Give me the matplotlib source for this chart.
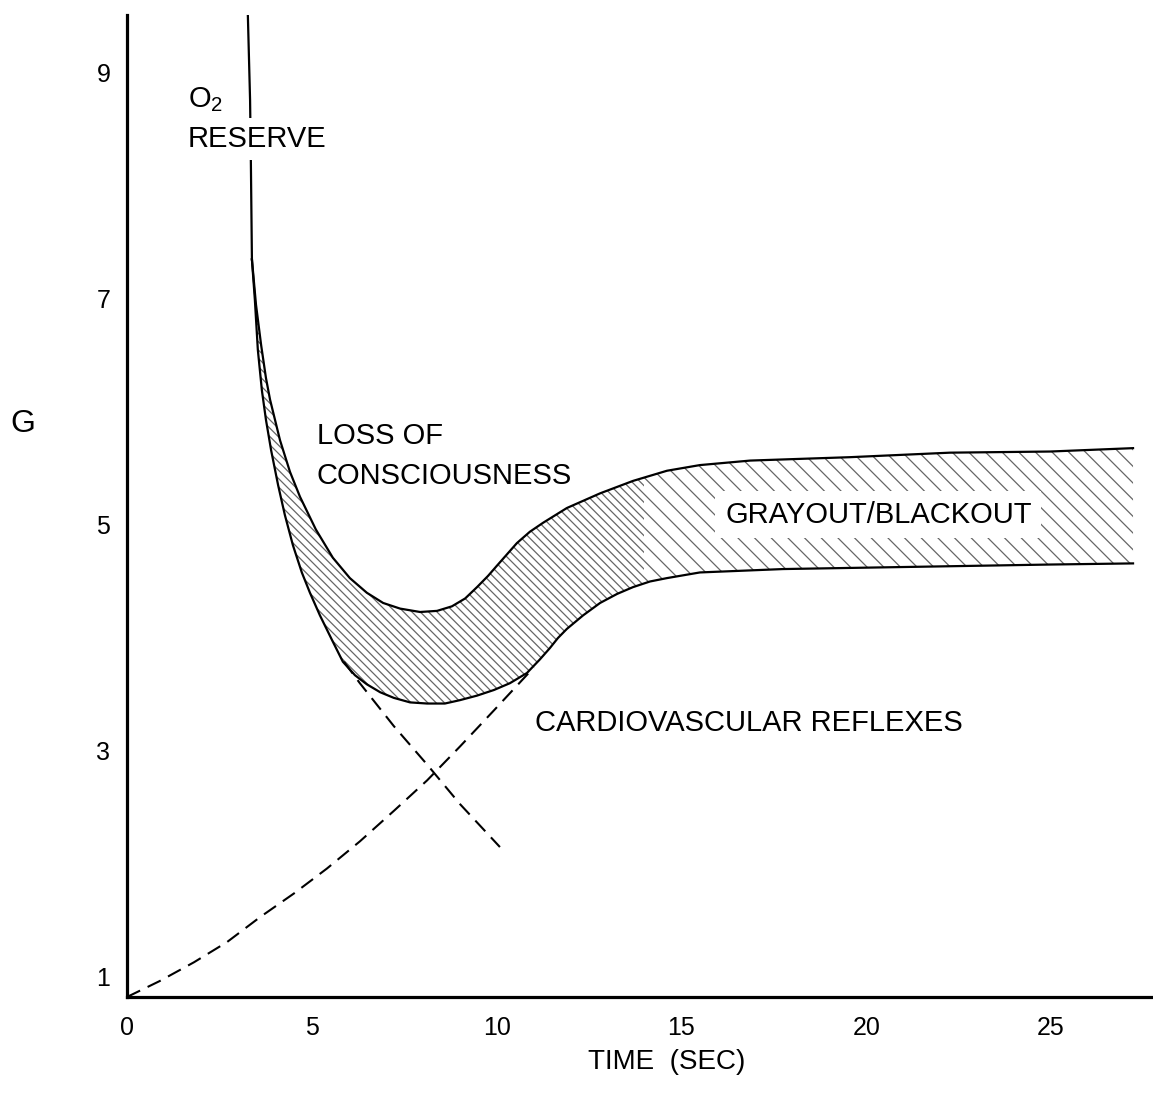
import matplotlib
matplotlib.use("Agg")
import matplotlib.pyplot as plt
from matplotlib.patches import Rectangle

plt.rcParams['font.family'] = ['Liberation Sans', 'DejaVu Sans']
plt.rcParams['mathtext.fontset'] = 'custom'
plt.rcParams['mathtext.rm'] = 'Liberation Sans'
plt.rcParams['mathtext.it'] = 'Liberation Sans'
plt.rcParams['hatch.linewidth'] = 0.9

# ---- data (time in s, G) ----
o2_t = [3.27, 3.33, 3.35, 3.38]
o2_g = [9.51, 8.76, 8.26, 7.35]

upper_t = [3.38, 3.49, 3.63, 3.76, 3.87, 4.14, 4.41, 4.68, 5.11, 5.57, 6.03, 6.49,
           6.93, 7.39, 7.93, 8.39, 8.79, 9.15, 9.47, 9.77, 10.01, 10.28, 10.55,
           10.90, 11.26, 11.90, 12.80, 13.69, 14.61, 15.50, 16.86, 19.56, 22.27,
           24.97, 27.22]
upper_g = [7.35, 6.95, 6.59, 6.30, 6.11, 5.75, 5.47, 5.25, 4.96, 4.71, 4.53, 4.40,
           4.31, 4.26, 4.23, 4.24, 4.28, 4.35, 4.45, 4.55, 4.64, 4.74, 4.84,
           4.94, 5.02, 5.15, 5.28, 5.39, 5.48, 5.53, 5.57, 5.60, 5.64,
           5.65, 5.68]

lower_t = [3.38, 3.46, 3.54, 3.65, 3.76, 3.90, 4.09, 4.27, 4.49, 4.73, 4.95, 5.22,
           5.55, 5.84, 6.17, 6.49, 6.85, 7.22, 7.66, 8.12, 8.60, 9.01, 9.47, 9.93,
           10.36, 10.82, 11.17, 11.44, 11.66, 11.90, 12.34, 12.80, 13.26, 13.69,
           14.15, 14.61, 15.50, 17.75, 21.37, 24.97, 27.22]
lower_g = [7.35, 6.99, 6.55, 6.19, 5.93, 5.66, 5.35, 5.09, 4.82, 4.58, 4.40, 4.20,
           3.98, 3.79, 3.67, 3.59, 3.52, 3.47, 3.43, 3.42, 3.42, 3.45, 3.49, 3.54,
           3.60, 3.69, 3.81, 3.91, 4.00, 4.08, 4.20, 4.31, 4.39, 4.45,
           4.50, 4.53, 4.58, 4.61, 4.63, 4.65, 4.66]

o2_decay_t = [5.87, 6.30, 7.22, 8.12, 9.01, 10.09]
o2_decay_g = [3.79, 3.60, 3.22, 2.88, 2.53, 2.15]

reflex_t = [0.0, 0.89, 1.81, 2.71, 3.60, 4.52, 5.41, 6.30, 7.22, 8.12, 9.01, 9.93, 11.01]
reflex_g = [0.823, 0.965, 1.13, 1.31, 1.53, 1.74, 1.96, 2.20, 2.47, 2.74, 3.04, 3.36, 3.74]

x_ticks = [0, 5, 10, 15, 20, 25]
y_ticks = [1, 3, 5, 7, 9]

# ---- figure ----
fig = plt.figure(figsize=(11.53, 10.95), dpi=100)
ax = fig.add_axes([127 / 1153, 98 / 1095, 1026 / 1153, 982 / 1095])
ax.set_xlim(0, 27.76)
ax.set_ylim(0.823, 9.513)

for s in ['top', 'right']:
    ax.spines[s].set_visible(False)
for s in ['left', 'bottom']:
    ax.spines[s].set_linewidth(2.3)

ax.set_xticks(x_ticks)
ax.set_yticks(y_ticks)
ax.tick_params(length=0, labelsize=18)
ax.tick_params(axis='x', pad=14)
ax.tick_params(axis='y', pad=12)

# hatched band
poly_t = upper_t + lower_t[::-1]
poly_g = upper_g + lower_g[::-1]
for hatch, (x0, x1) in [('\\\\\\\\', (0, 14.0)), ('\\\\', (14.0, 28))]:
    patches = ax.fill(poly_t, poly_g, facecolor='none', edgecolor='#666666',
                      linewidth=0, hatch=hatch, zorder=1)
    clip = Rectangle((x0, 0), x1 - x0, 10, transform=ax.transData)
    for p in patches:
        p.set_clip_path(clip)

lw = 1.6
ax.plot(o2_t, o2_g, color='black', lw=lw, zorder=3, solid_joinstyle='round')
ax.plot(upper_t, upper_g, color='black', lw=lw, zorder=3, solid_joinstyle='round')
ax.plot(lower_t, lower_g, color='black', lw=lw, zorder=3, solid_joinstyle='round')
ax.plot(o2_decay_t, o2_decay_g, color='black', lw=1.5, dashes=(7, 4), zorder=3)
ax.plot(reflex_t, reflex_g, color='black', lw=1.5, dashes=(7, 4), zorder=3, clip_on=False)

# labels
fs = 21
ax.text(1.65, 8.76, 'O$_\\mathregular{2}$', fontsize=fs, ha='left', va='center', zorder=5)
ax.text(1.65, 8.42, 'RESERVE', fontsize=fs, ha='left', va='center', zorder=5,
        bbox=dict(facecolor='white', edgecolor='none', pad=5))
ax.text(5.14, 5.79, 'LOSS OF', fontsize=fs, ha='left', va='center', zorder=5)
ax.text(5.14, 5.43, 'CONSCIOUSNESS', fontsize=fs, ha='left', va='center', zorder=5)
ax.text(16.18, 5.09, 'GRAYOUT/BLACKOUT', fontsize=fs, ha='left', va='center', zorder=5,
        bbox=dict(facecolor='white', edgecolor='none', pad=7))
ax.text(11.04, 3.25, 'CARDIOVASCULAR REFLEXES', fontsize=fs, ha='left', va='center', zorder=5)

fig.text(667 / 1153, 1 - 1062 / 1095, 'TIME  (SEC)', fontsize=20, ha='center', va='center')
fig.text(23 / 1153, 1 - 424 / 1095, 'G', fontsize=23, ha='center', va='center')

fig.savefig('out.png', dpi=100, facecolor='white')
